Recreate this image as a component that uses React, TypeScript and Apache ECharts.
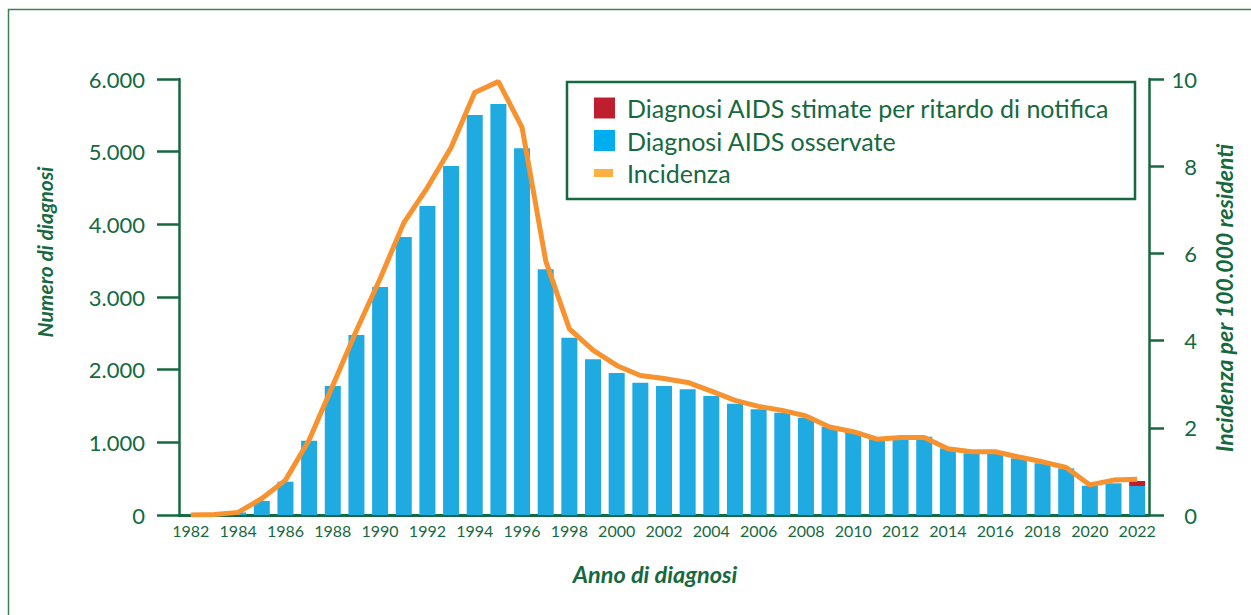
import React, { useEffect, useRef } from "react";
import * as echarts from "echarts";

const years = [
  "1982","1983","1984","1985","1986","1987","1988","1989","1990","1991",
  "1992","1993","1994","1995","1996","1997","1998","1999","2000","2001",
  "2002","2003","2004","2005","2006","2007","2008","2009","2010","2011",
  "2012","2013","2014","2015","2016","2017","2018","2019","2020","2021","2022",
];

const observed = [
  2, 8, 35, 193, 458, 1023, 1775, 2477, 3137, 3825,
  4252, 4803, 5504, 5656, 5046, 3381, 2440, 2142, 1954, 1821,
  1775, 1729, 1637, 1532, 1454, 1408, 1339, 1215, 1147, 1041,
  1055, 1078, 917, 849, 849, 780, 711, 642, 403, 436, 399,
];

const estimated = [
  0, 0, 0, 0, 0, 0, 0, 0, 0, 0,
  0, 0, 0, 0, 0, 0, 0, 0, 0, 0,
  0, 0, 0, 0, 0, 0, 0, 0, 0, 0,
  0, 0, 0, 0, 0, 0, 0, 0, 0, 0, 69,
];

const incidence = [
  0.0, 0.01, 0.06, 0.38, 0.8, 1.72, 2.97, 4.23, 5.42, 6.7,
  7.51, 8.43, 9.69, 9.94, 8.89, 5.83, 4.27, 3.78, 3.43, 3.2,
  3.13, 3.04, 2.84, 2.63, 2.49, 2.4, 2.27, 2.02, 1.91, 1.74,
  1.78, 1.78, 1.52, 1.45, 1.45, 1.33, 1.22, 1.09, 0.69, 0.8, 0.82,
];

const leftTickLabels = ["0", "1.000", "2.000", "3.000", "4.000", "5.000", "6.000"];
const rightTickLabels = ["0", "2", "4", "6", "8", "10"];

const NAME_EST = "Diagnosi AIDS stimate per ritardo di notifica";
const NAME_OBS = "Diagnosi AIDS osservate";
const NAME_INC = "Incidenza";

const GREEN = "#16693f";
const FONT = "Lato, 'Noto Sans', sans-serif";

function titleStyle(text: string, size: number) {
  return {
    text,
    fill: GREEN,
    font: `italic bold ${size}px ${FONT}`,
    fontFamily: FONT,
    fontSize: size,
    fontStyle: "italic",
    fontWeight: "bold",
    align: "center",
    verticalAlign: "middle",
    textAlign: "center",
    textVerticalAlign: "middle",
  };
}

export default function App() {
  const ref = useRef<HTMLDivElement>(null);

  useEffect(() => {
    if (!ref.current) return;
    const chart = echarts.init(ref.current, null, { renderer: "svg" });
    chart.setOption({
      animation: false,
      textStyle: { fontFamily: FONT },
      grid: { left: 179, right: 102, top: 79, bottom: 100, containLabel: false },
      legend: {
        orient: "vertical",
        left: 594,
        top: 95.5,
        padding: 0,
        itemWidth: 21,
        itemHeight: 21,
        itemGap: 7.5,
        selectedMode: false,
        itemStyle: { borderWidth: 0 },
        textStyle: {
          fontFamily: FONT,
          fontSize: 25,
          color: GREEN,
          padding: [0, 0, 0, 7],
        },
        data: [
          { name: NAME_EST, icon: "rect", itemStyle: { color: "#BE1E2D" } },
          { name: NAME_OBS, icon: "rect", itemStyle: { color: "#00AEEF" } },
          {
            name: NAME_INC,
            icon: "path://M0,0L0,0M0,6.5L19,6.5L19,14.5L0,14.5ZM21,21L21,21",
            itemStyle: { color: "#FBB040", borderWidth: 0 },
          },
        ],
      },
      xAxis: {
        type: "category",
        data: years,
        boundaryGap: true,
        axisLine: { lineStyle: { color: GREEN, width: 3 } },
        axisTick: { show: false },
        axisLabel: {
          interval: 1,
          color: GREEN,
          fontFamily: FONT,
          fontSize: 16,
          margin: 7,
        },
        splitLine: { show: false },
      },
      yAxis: [
        {
          type: "value",
          min: 0,
          max: 6000,
          interval: 1000,
          position: "left",
          axisLine: { show: true, lineStyle: { color: GREEN, width: 2.5 } },
          axisTick: { show: true, length: 22, lineStyle: { color: GREEN, width: 2.5 } },
          axisLabel: {
            color: GREEN,
            fontFamily: FONT,
            fontSize: 22,
            margin: 34,
            formatter: (v: number) => leftTickLabels[Math.round(v / 1000)] ?? "",
          },
          splitLine: { show: false },
        },
        {
          type: "value",
          min: 0,
          max: 10,
          interval: 2,
          position: "right",
          axisLine: { show: true, lineStyle: { color: GREEN, width: 2.5 } },
          axisTick: { show: true, length: 15, lineStyle: { color: GREEN, width: 2.5 } },
          axisLabel: {
            color: GREEN,
            fontFamily: FONT,
            fontSize: 22,
            margin: 48,
            align: "right",
            formatter: (v: number) => rightTickLabels[Math.round(v / 2)] ?? "",
          },
          splitLine: { show: false },
        },
      ],
      graphic: [
        {
          type: "rect",
          z: -10,
          shape: { x: 8.5, y: 9.5, width: 1400, height: 800 },
          style: { fill: "none", stroke: "#3f7f55", lineWidth: 1.5 },
        },
        {
          type: "rect",
          shape: { x: 567, y: 82, width: 568, height: 117 },
          style: { fill: "none", stroke: GREEN, lineWidth: 2.5 },
        },
        {
          type: "text",
          x: 44,
          y: 252,
          rotation: Math.PI / 2,
          style: titleStyle("Numero di diagnosi", 21),
        },
        {
          type: "text",
          x: 1224,
          y: 298,
          rotation: Math.PI / 2,
          style: titleStyle("Incidenza per 100.000 residenti", 23),
        },
        {
          type: "text",
          x: 655,
          y: 574,
          style: titleStyle("Anno di diagnosi", 23.5),
        },
      ],
      series: [
        {
          name: NAME_OBS,
          type: "bar",
          stack: "diag",
          barWidth: 16,
          itemStyle: { color: "#1FAAE1" },
          data: observed,
        },
        {
          name: NAME_EST,
          type: "bar",
          stack: "diag",
          barWidth: 16,
          itemStyle: { color: "#BE1E2D" },
          data: estimated,
        },
        {
          name: NAME_INC,
          type: "line",
          yAxisIndex: 1,
          symbol: "none",
          z: 5,
          lineStyle: { color: "#F7922F", width: 5 },
          itemStyle: { color: "#F7922F" },
          data: incidence,
        },
      ],
    });
    return () => chart.dispose();
  }, []);

  return (
    <div
      ref={ref}
      style={{ position: "absolute", left: 0, top: 0, width: 1251, height: 615, background: "#fff" }}
    />
  );
}
